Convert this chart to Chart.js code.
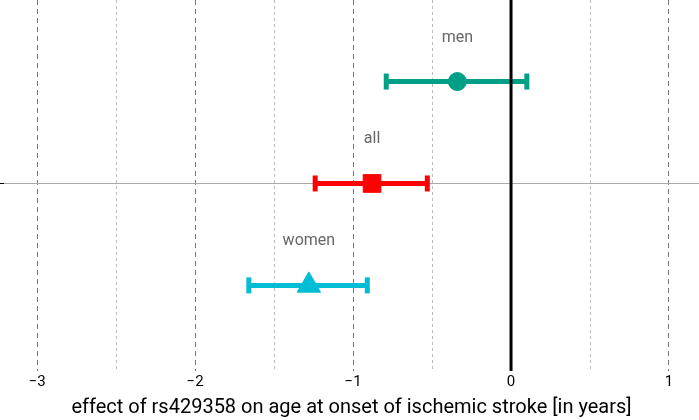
<!DOCTYPE html>
<html>
<head>
<meta charset="utf-8">
<script src="https://cdn.jsdelivr.net/npm/chart.js@4"></script>
<style>
  html, body { margin: 0; padding: 0; background: #fff; }
  #wrap { width: 699px; height: 420px; }
</style>
</head>
<body>
<div id="wrap"><canvas id="forestChart"></canvas></div>
<script>
// Data
const groups = ['men', 'all', 'women'];
const rows = [2, 1, 0];
const estimates = [-0.34, -0.88, -1.28];
const lower = [-0.79, -1.24, -1.66];
const upper = [0.10, -0.53, -0.91];
const markers = ['circle', 'rect', 'triangle'];
const markerSizes = [9, 12.5, 13.5];
const colors = ['#00A087', '#FF0000', '#00BCD4'];
const xTicks = [-3, -2.5, -2, -1.5, -1, -0.5, 0, 0.5, 1];
const yMin = -0.84, yMax = 2.80;

document.addEventListener('DOMContentLoaded', () => {
    const ctx = document.getElementById('forestChart').getContext('2d');
    Chart.defaults.font.family = 'Roboto, "Noto Sans", sans-serif';
    Chart.defaults.color = '#000';

    const datasets = [];
    groups.forEach((g, i) => {
        // confidence interval with end caps
        datasets.push({
            type: 'line',
            label: g + ' CI',
            data: [{ x: lower[i], y: rows[i] }, { x: upper[i], y: rows[i] }],
            borderColor: colors[i],
            borderWidth: 5,
            pointStyle: 'line',
            rotation: 90,
            pointRadius: 8,
            pointBorderWidth: 5,
            pointBorderColor: colors[i],
            order: 2
        });
        // point estimate
        datasets.push({
            type: 'scatter',
            label: g,
            data: [{ x: estimates[i], y: rows[i] }],
            pointStyle: markers[i],
            pointRadius: markerSizes[i],
            backgroundColor: colors[i],
            borderColor: colors[i],
            borderWidth: 1,
            order: 1
        });
    });
    // reference line at zero effect, on top of the bars
    datasets.push({
        type: 'line',
        label: 'zero',
        data: [{ x: 0, y: yMin }, { x: 0, y: yMax }],
        borderColor: '#000',
        borderWidth: 3,
        pointRadius: 0,
        order: 0
    });

    // group names above each estimate
    const groupLabels = {
        id: 'groupLabels',
        afterDatasetsDraw(chart) {
            const c = chart.ctx;
            const xs = chart.scales.x, ys = chart.scales.y;
            c.save();
            c.font = '16px Roboto, "Noto Sans", sans-serif';
            c.fillStyle = '#666';
            c.textAlign = 'center';
            c.textBaseline = 'middle';
            groups.forEach((g, i) => {
                c.fillText(g, xs.getPixelForValue(estimates[i]), ys.getPixelForValue(rows[i]) - 44);
            });
            c.restore();
        }
    };

    new Chart(ctx, {
        data: { datasets: datasets },
        plugins: [groupLabels],
        options: {
            responsive: true,
            maintainAspectRatio: false,
            animation: false,
            layout: { padding: 0, autoPadding: false },
            plugins: {
                legend: { display: false },
                tooltip: { enabled: false }
            },
            scales: {
                x: {
                    type: 'linear',
                    min: -3.21,
                    max: 1.19,
                    afterBuildTicks: scale => { scale.ticks = xTicks.map(v => ({ value: v })); },
                    ticks: {
                        autoSkip: false,
                        maxRotation: 0,
                        padding: 2,
                        font: { size: 15 },
                        color: '#000',
                        callback: v => Number.isInteger(v) ? String(v).replace('-', '\u2212') : ''
                    },
                    grid: {
                        drawTicks: false,
                        color: c => {
                            const v = c.tick ? c.tick.value : 0;
                            if (v === 0) return 'rgba(0,0,0,0)';
                            return Number.isInteger(v) ? '#777' : '#bbb';
                        },
                        lineWidth: 1
                    },
                    border: {
                        display: false,
                        dash: c => {
                            const v = c.tick ? c.tick.value : 0;
                            return Number.isInteger(v) ? [5, 4] : [3, 3];
                        }
                    },
                    title: {
                        display: true,
                        text: 'effect of rs429358 on age at onset of ischemic stroke [in years]',
                        font: { size: 20 },
                        color: '#000',
                        padding: { top: 3, bottom: 0 }
                    }
                },
                y: {
                    type: 'linear',
                    min: yMin,
                    max: yMax,
                    afterBuildTicks: scale => { scale.ticks = [{ value: 1 }]; },
                    ticks: { display: false },
                    grid: {
                        color: '#aaa',
                        tickColor: '#000',
                        tickLength: 4,
                        lineWidth: 1
                    },
                    border: { display: false }
                }
            }
        }
    });
});
</script>
</body>
</html>
